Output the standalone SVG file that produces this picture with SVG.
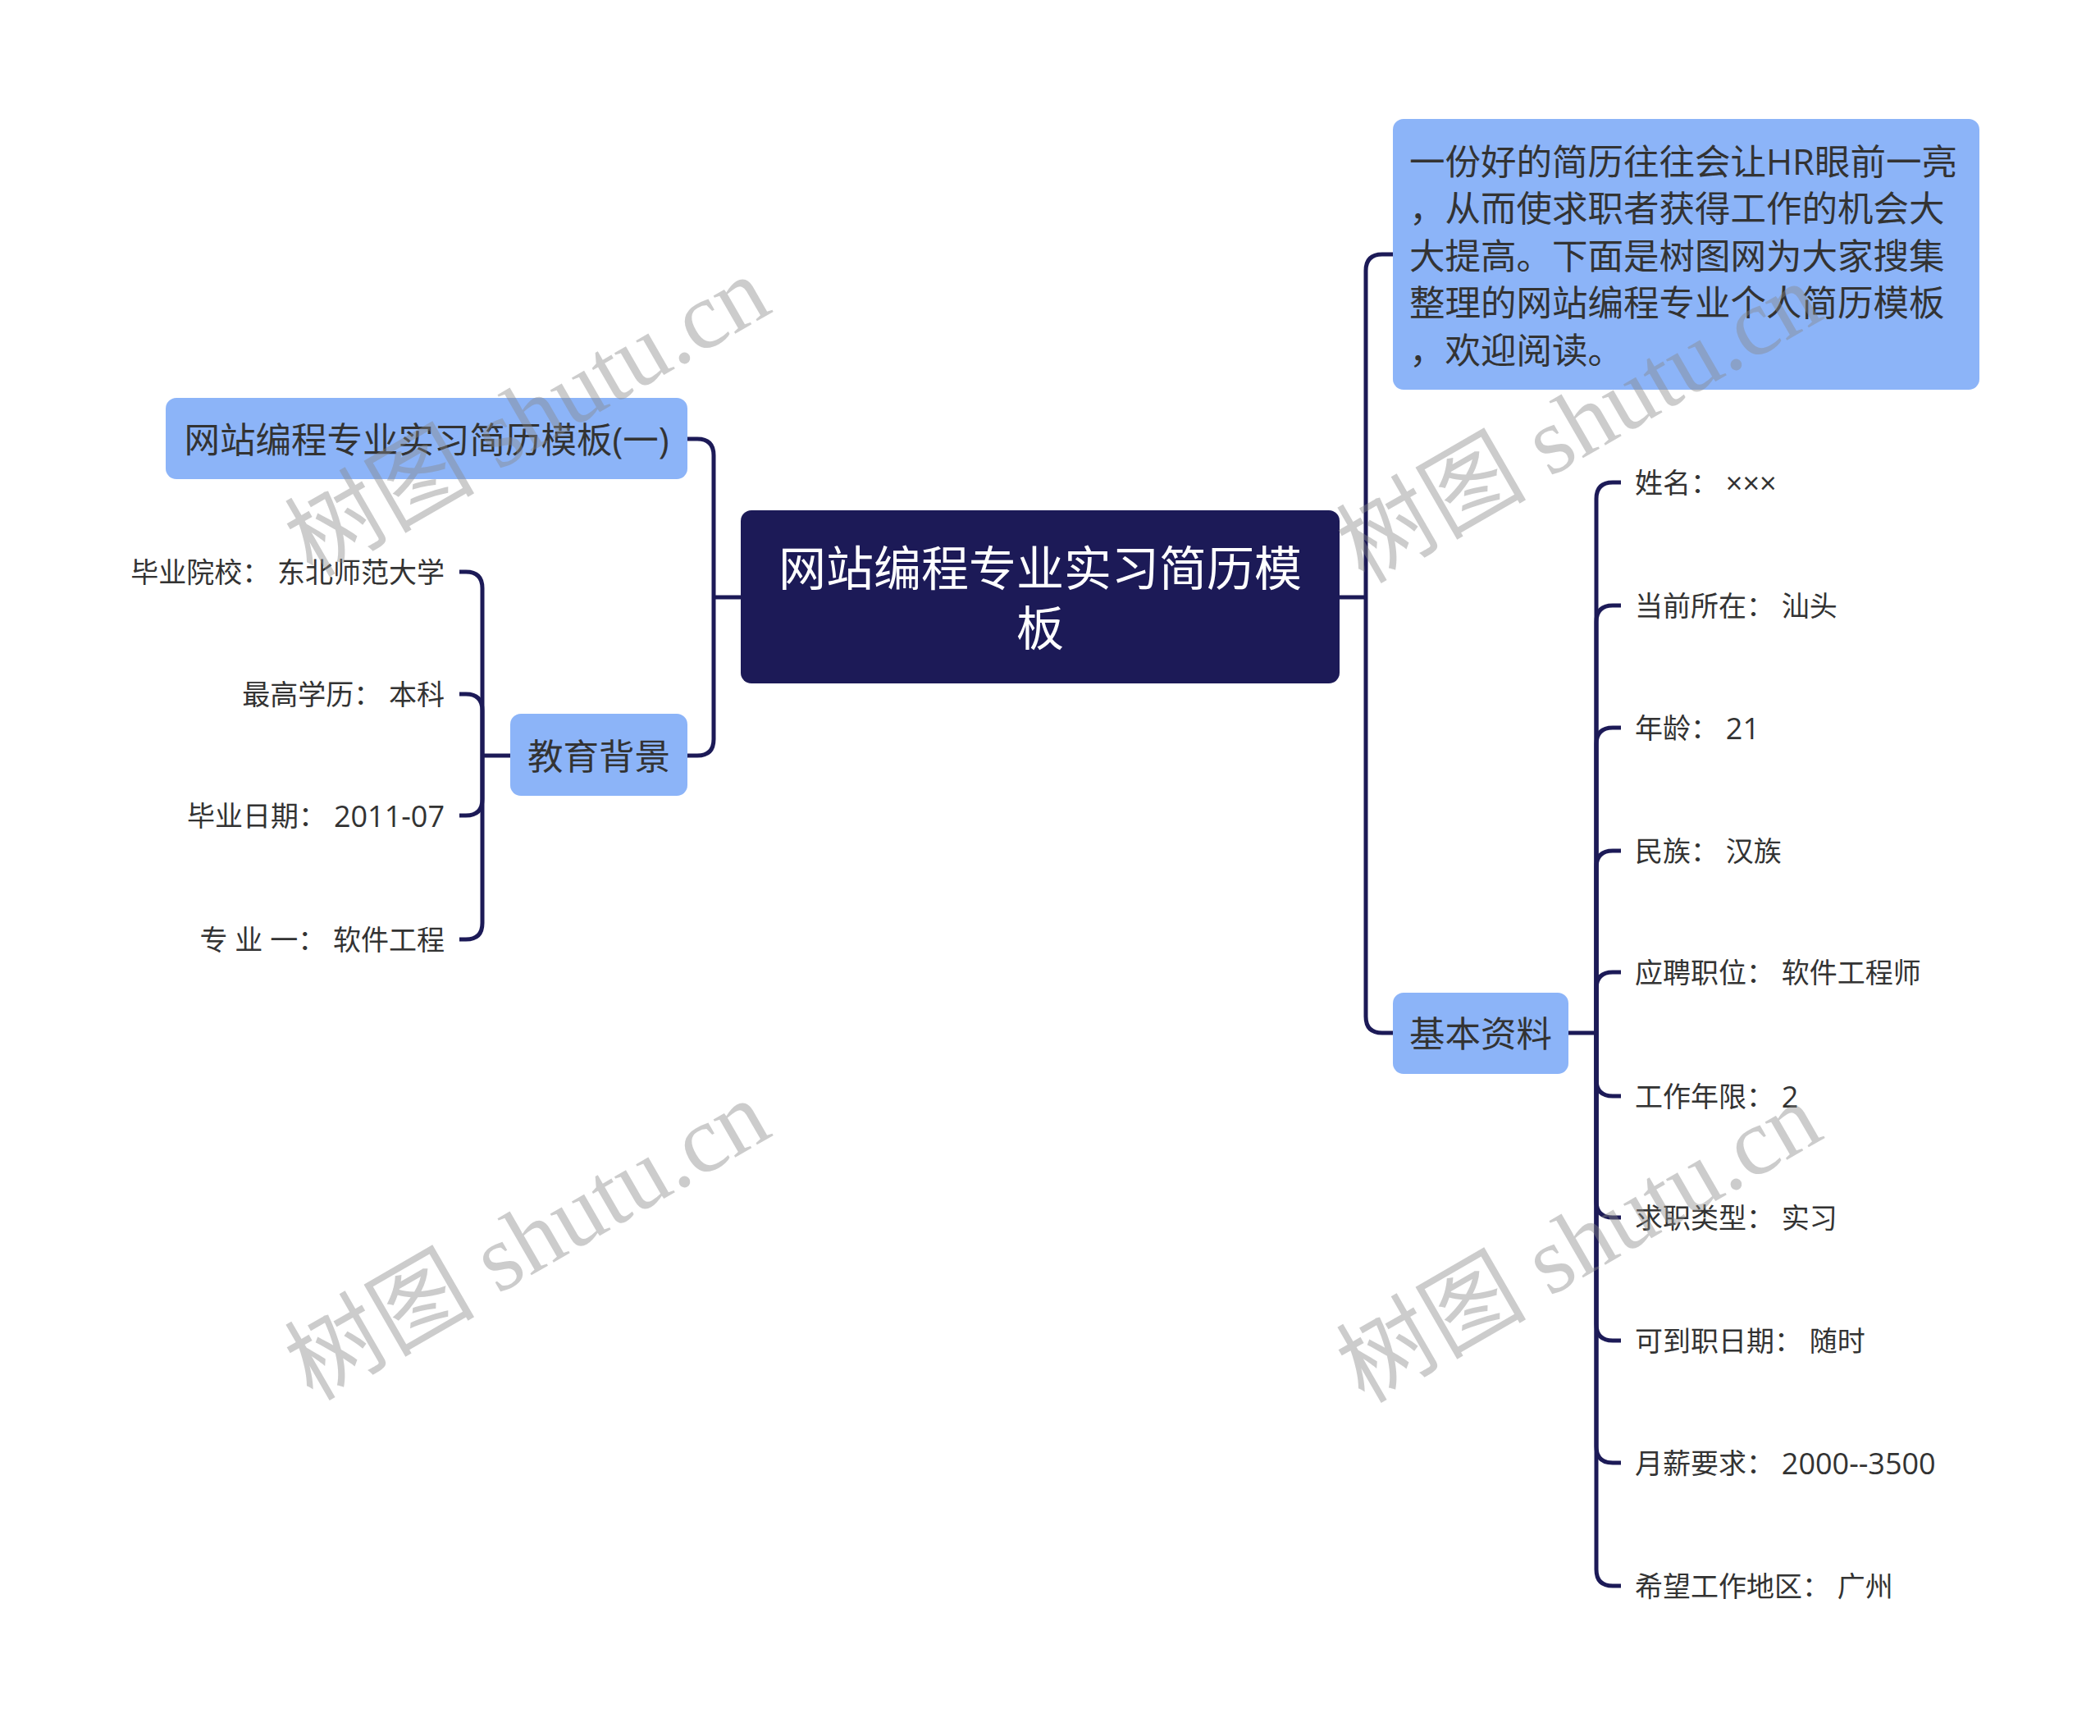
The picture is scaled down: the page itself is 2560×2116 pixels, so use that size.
<svg xmlns="http://www.w3.org/2000/svg" width="2560" height="2116" viewBox="0 0 2560 2116">
<style>
.t{font-family:"Open Sans","Noto Sans CJK SC",sans-serif;fill:#333;dominant-baseline:central}
.leaf{font-size:34px}
.num{font-size:36px}
.sub{font-size:43.5px}
.main{font-size:58px;fill:#fff}
.box{fill:#8cb4f8}
.conn path{fill:none;stroke:#1c1a57;stroke-width:5}
.wm{font-family:"Liberation Serif","Noto Sans CJK SC",serif;font-size:116px;fill:#888;opacity:0.42;dominant-baseline:central;text-anchor:middle}
</style>
<rect width="2560" height="2116" fill="#fff"/>
<g class="conn" id="connectors">
<path d="M903,728 H870"/>
<path d="M870,728 V555 Q870,535 850,535 H838"/>
<path d="M870,728 V901 Q870,921 850,921 H838"/>
<path d="M622,921 H588"/>
<path d="M588,921 V717 Q588,697 568,697 H560"/>
<path d="M588,921 V866 Q588,846 568,846 H560"/>
<path d="M588,921 V974 Q588,994 568,994 H560"/>
<path d="M588,921 V1125 Q588,1145 568,1145 H560"/>
<path d="M1633,728 H1665"/>
<path d="M1665,728 V330 Q1665,310 1685,310 H1698"/>
<path d="M1665,728 V1239 Q1665,1259 1685,1259 H1698"/>
<path d="M1912,1259 H1946"/>
<path d="M1946,1259 V608 Q1946,588 1966,588 H1976"/>
<path d="M1946,1259 V758 Q1946,738 1966,738 H1976"/>
<path d="M1946,1259 V907 Q1946,887 1966,887 H1976"/>
<path d="M1946,1259 V1057 Q1946,1037 1966,1037 H1976"/>
<path d="M1946,1259 V1205 Q1946,1185 1966,1185 H1976"/>
<path d="M1946,1259 V1316 Q1946,1336 1966,1336 H1976"/>
<path d="M1946,1259 V1464 Q1946,1484 1966,1484 H1976"/>
<path d="M1946,1259 V1614 Q1946,1634 1966,1634 H1976"/>
<path d="M1946,1259 V1763 Q1946,1783 1966,1783 H1976"/>
<path d="M1946,1259 V1913 Q1946,1933 1966,1933 H1976"/>
</g>
<g id="root">
<rect x="903" y="622" width="730" height="211" rx="13" fill="#1c1a57"/>
<text class="t main" x="1268" y="691" text-anchor="middle">网站编程专业实习简历模</text>
<text class="t main" x="1268" y="764" text-anchor="middle">板</text>
</g>
<g id="intro">
<rect class="box" x="1698" y="145" width="715" height="330" rx="13"/>
<text class="t sub" x="1718" y="196">一份好的简历往往会让HR眼前一亮</text>
<text class="t sub" x="1718" y="253">，从而使求职者获得工作的机会大</text>
<text class="t sub" x="1718" y="311">大提高。下面是树图网为大家搜集</text>
<text class="t sub" x="1718" y="368">整理的网站编程专业个人简历模板</text>
<text class="t sub" x="1718" y="426">，欢迎阅读。</text>
</g>
<g id="template1">
<rect class="box" x="202" y="485" width="636" height="99" rx="13"/>
<text class="t sub" x="520" y="535" text-anchor="middle">网站编程专业实习简历模板(一)</text>
</g>
<g id="education">
<rect class="box" x="622" y="870" width="216" height="100" rx="13"/>
<text class="t sub" x="730" y="921" text-anchor="middle">教育背景</text>
</g>
<g id="edu-leaves">
<text class="t leaf" x="542" y="697" text-anchor="end">毕业院校： 东北师范大学</text>
<text class="t leaf" x="542" y="846" text-anchor="end">最高学历： 本科</text>
<text class="t leaf" x="542" y="994" text-anchor="end">毕业日期： <tspan class="num">2011-07</tspan></text>
<text class="t leaf" x="542" y="1145" text-anchor="end">专 业 一： 软件工程</text>
</g>
<g id="basic">
<rect class="box" x="1698" y="1210" width="214" height="99" rx="13"/>
<text class="t sub" x="1805" y="1259" text-anchor="middle">基本资料</text>
</g>
<g id="basic-leaves">
<text class="t leaf" x="1993" y="588">姓名： <tspan class="num">×××</tspan></text>
<text class="t leaf" x="1993" y="738">当前所在： 汕头</text>
<text class="t leaf" x="1993" y="887">年龄： <tspan class="num">21</tspan></text>
<text class="t leaf" x="1993" y="1037">民族： 汉族</text>
<text class="t leaf" x="1993" y="1185">应聘职位： 软件工程师</text>
<text class="t leaf" x="1993" y="1336">工作年限： <tspan class="num">2</tspan></text>
<text class="t leaf" x="1993" y="1484">求职类型： 实习</text>
<text class="t leaf" x="1993" y="1634">可到职日期： 随时</text>
<text class="t leaf" x="1993" y="1783">月薪要求： <tspan class="num">2000--3500</tspan></text>
<text class="t leaf" x="1993" y="1933">希望工作地区： 广州</text>
</g>
<g id="watermarks">
<text class="wm" transform="translate(643,508) rotate(-30)">树图 shutu.cn</text>
<text class="wm" transform="translate(643,1512) rotate(-30)">树图 shutu.cn</text>
<text class="wm" transform="translate(1925,516) rotate(-30)">树图 shutu.cn</text>
<text class="wm" transform="translate(1925,1515) rotate(-30)">树图 shutu.cn</text>
</g>
</svg>
